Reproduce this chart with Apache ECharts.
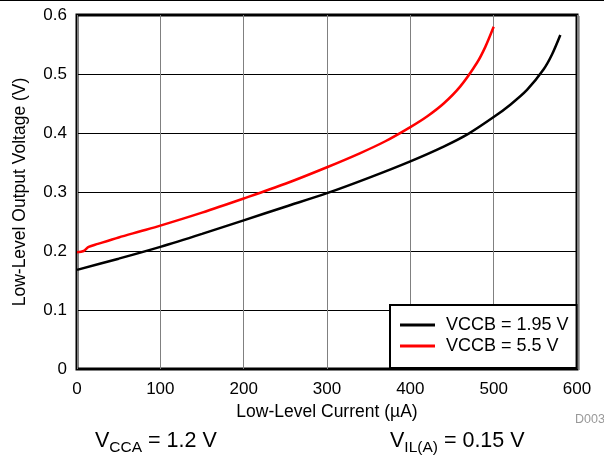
<!DOCTYPE html>
<html>
<head>
<meta charset="utf-8">
<script src="https://cdn.jsdelivr.net/npm/echarts@6/dist/echarts.min.js"></script>
<style>html,body{margin:0;padding:0;background:#fff}#c{width:604px;height:457px}</style>
</head>
<body>
<div id="c"></div>
<script>
const FONT = 'Arial, "Liberation Sans", sans-serif';
const seriesNames = ['VCCB = 1.95 V', 'VCCB = 5.5 V'];
const xTicks = [0, 100, 200, 300, 400, 500, 600];
const yTicks = [0, 0.1, 0.2, 0.3, 0.4, 0.5, 0.6];
// Black curve: VCCB = 1.95 V  [current µA, voltage V]
const black195X = [0, 50, 100, 150, 200, 250, 300, 350, 400, 440, 470, 500, 520, 540, 560, 570, 580];
const black195Y = [0.168, 0.187, 0.207, 0.229, 0.252, 0.275, 0.298, 0.324, 0.352, 0.377, 0.399, 0.427, 0.448, 0.473, 0.508, 0.533, 0.566];
// Red curve: VCCB = 5.5 V
const red55X = [0, 8, 14, 25, 50, 75, 100, 150, 200, 250, 300, 340, 370, 400, 420, 440, 460, 480, 490, 500];
const red55Y = [0.198, 0.200, 0.207, 0.212, 0.223, 0.233, 0.243, 0.265, 0.289, 0.314, 0.342, 0.366, 0.386, 0.410, 0.428, 0.450, 0.479, 0.519, 0.546, 0.580];

const zip = (a, b) => a.map((v, i) => [v, b[i]]);
const chart = echarts.init(document.getElementById('c'), null, {renderer: 'canvas'});
const rich = {
  v: {fontFamily: FONT, fontSize: 21.5, fill: '#000', verticalAlign: 'bottom'},
  s: {fontFamily: FONT, fontSize: 15.5, fill: '#000', verticalAlign: 'bottom', padding: [0, 0, -4, 0]}
};
chart.setOption({
  animation: false,
  backgroundColor: '#fff',
  textStyle: {fontFamily: FONT},
  grid: {left: 77, top: 15, width: 500, height: 354, show: true, borderColor: '#000', borderWidth: 3, backgroundColor: 'transparent', containLabel: false},
  xAxis: {
    type: 'value', min: xTicks[0], max: xTicks[xTicks.length - 1], interval: 100,
    name: 'Low-Level Current (µA)', nameLocation: 'middle', nameGap: 31,
    nameTextStyle: {fontFamily: FONT, fontSize: 17.5, color: '#000'},
    axisLine: {show: false}, axisTick: {show: false},
    axisLabel: {fontFamily: FONT, fontSize: 17, color: '#000', margin: 12},
    splitLine: {show: true, lineStyle: {color: '#808080', width: 1}}
  },
  yAxis: {
    type: 'value', min: yTicks[0], max: yTicks[yTicks.length - 1], interval: 0.1,
    name: 'Low-Level Output Voltage (V)', nameLocation: 'middle', nameGap: 48,
    nameTextStyle: {fontFamily: FONT, fontSize: 17.5, color: '#000'},
    axisLine: {show: false}, axisTick: {show: false},
    axisLabel: {fontFamily: FONT, fontSize: 17, color: '#000', margin: 10},
    splitLine: {show: true, lineStyle: {color: '#000', width: 1}}
  },
  legend: {
    orient: 'vertical', left: 390, top: 305,
    data: seriesNames, icon: 'rect',
    backgroundColor: '#fff', borderColor: '#000', borderWidth: 2,
    padding: [11, 8, 13, 10], itemGap: 3, itemWidth: 35, itemHeight: 3,
    textStyle: {fontFamily: FONT, fontSize: 18, color: '#000', padding: [0, 0, 0, 6]}
  },
  series: [
    {name: seriesNames[0], type: 'line', symbol: 'none', smooth: 0.3, data: zip(black195X, black195Y), lineStyle: {color: '#000', width: 2.5}, itemStyle: {color: '#000'}, z: 3},
    {name: seriesNames[1], type: 'line', symbol: 'none', smooth: 0.3, data: zip(red55X, red55Y), lineStyle: {color: '#ff0000', width: 2.5}, itemStyle: {color: '#ff0000'}, z: 3}
  ],
  graphic: [
    {type: 'line', shape: {x1: 0, y1: 0.5, x2: 604, y2: 0.5}, style: {stroke: '#000', lineWidth: 1}},
    {type: 'line', shape: {x1: 579.5, y1: 16, x2: 579.5, y2: 370}, style: {stroke: '#aaa', lineWidth: 1}},
    {type: 'text', left: 575, top: 413, style: {text: 'D003', fill: '#999', font: '12.5px ' + FONT}},
    {type: 'text', left: 95, top: 430, style: {text: '{v|V}{s|CCA}{v| = 1.2 V}', rich: rich}},
    {type: 'text', left: 390, top: 430, style: {text: '{v|V}{s|IL(A)}{v| = 0.15 V}', rich: rich}}
  ]
});
</script>
</body>
</html>
